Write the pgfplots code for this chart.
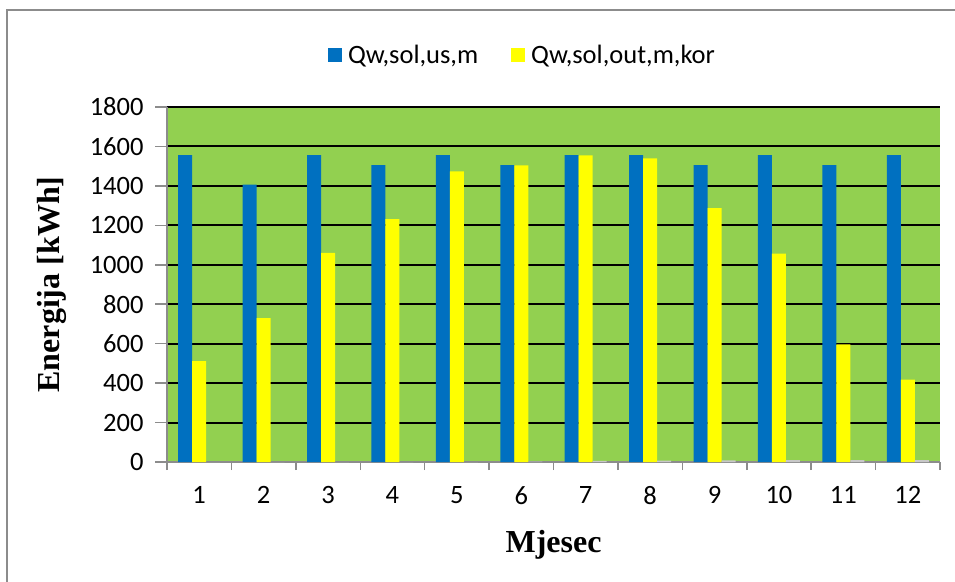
\documentclass[border=0pt]{standalone}
\usepackage{pgfplots}
\pgfplotsset{compat=1.18}
\usepackage{fontspec}
\setmainfont{Carlito}
\newfontfamily\timesfont{Liberation Serif}
\definecolor{qblue}{HTML}{0070C0}
\definecolor{qyellow}{HTML}{FFFF00}
\definecolor{qgreen}{HTML}{92D050}
\definecolor{qgrey}{HTML}{C8C8C8}
\definecolor{axgrey}{HTML}{8C8C8C}
\begin{document}
\begin{tikzpicture}
\useasboundingbox (0bp,0bp) rectangle (955bp,-582bp);
\draw[axgrey, line width=1.5bp] (7bp,-10bp) rectangle (990bp,-610bp);
\begin{axis}[
  at={(167bp,-462bp)}, anchor=south west,
  scale only axis, width=773bp, height=355bp,
  xmin=0.5, xmax=12.5, ymin=0, ymax=1800,
  xtick={1,...,12},
  minor xtick={0.5,1.5,...,12.5},
  ytick={0,200,...,1800},
  axis x line*=bottom, axis y line*=left,
  axis line style={axgrey, line width=1.5bp},
  axis background/.style={fill=qgreen},
  ymajorgrids, major grid style={black, line width=2bp},
  tick align=outside,
  major tick length=12bp, minor tick length=8bp,
  major x tick style={draw=none},
  minor x tick style={axgrey, line width=1.5bp},
  ytick style={axgrey, line width=1.5bp},
  ticklabel style={font=\fontsize{26.5bp}{30bp}\selectfont},
  /pgf/number format/assume math mode=true,
  /pgf/number format/1000 sep={},
  xticklabel style={yshift=-9bp},
  yticklabel style={xshift=-8bp},
  xlabel={Mjesec},
  ylabel={Energija [kWh]},
  every axis x label/.style={at={(rel axis cs:0.5,0)}, yshift=-83bp, anchor=center,
     font=\timesfont\bfseries\fontsize{32bp}{36bp}\selectfont},
  every axis y label/.style={at={(rel axis cs:0,0.5)}, xshift=-115bp, rotate=90, anchor=center,
     font=\timesfont\bfseries\fontsize{32bp}{36bp}\selectfont},
  bar width=14bp,
  legend columns=2,
  legend style={at={(0.4605,1.1465)}, anchor=center, draw=none, fill=none,
     font=\fontsize{26.5bp}{30bp}\selectfont,
     /tikz/every even column/.append style={column sep=30bp},
     nodes={inner xsep=3bp}},
  legend entries={Qw{,}sol{,}us{,}m, Qw{,}sol{,}out{,}m{,}kor},
]
\addplot[ybar, bar shift=-14bp, fill=qblue, draw=none,
  legend image code/.code={\fill[qblue] (0bp,-7bp) rectangle (14bp,7bp); \path (17bp,0bp);}]
  coordinates {(1,1556) (2,1406) (3,1556) (4,1505) (5,1556) (6,1505) (7,1556) (8,1556) (9,1505) (10,1556) (11,1505) (12,1556)};
\addplot[ybar, bar shift=0bp, fill=qyellow, draw=none,
  legend image code/.code={\fill[qyellow] (0bp,-7bp) rectangle (14bp,7bp); \path (17bp,0bp);}]
  coordinates {(1,511) (2,729) (3,1061) (4,1231) (5,1474) (6,1504) (7,1555) (8,1540) (9,1287) (10,1057) (11,597) (12,418)};
\addplot[ybar, bar shift=14bp, fill=qgrey, draw=none]
  coordinates {(1,0) (2,0) (3,0) (4,0) (5,0) (6,2) (7,6) (8,7) (9,8) (10,9) (11,10) (12,10)};
\end{axis}
\end{tikzpicture}
\end{document}
